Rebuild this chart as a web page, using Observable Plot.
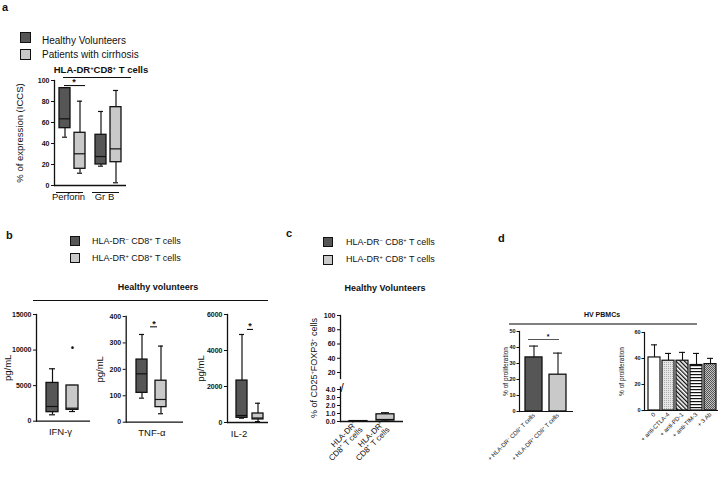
<!DOCTYPE html>
<html><head><meta charset="utf-8">
<script src="https://cdn.jsdelivr.net/npm/d3@7"></script>
<script src="https://cdn.jsdelivr.net/npm/@observablehq/plot@0.6"></script>
<style>
html,body{margin:0;padding:0;background:#fff}
#root{position:relative;width:720px;height:481px;overflow:hidden;font-family:"Liberation Sans",Arial,sans-serif;color:#111}
#root > *{position:absolute}
.t{white-space:nowrap;line-height:1;transform:translateY(-50%)}
.t.c{transform:translate(-50%,-50%)}
.t.r{transform:translate(-50%,-50%) rotate(-90deg)}
.b{font-weight:bold}
.sw{box-sizing:border-box;border:1.6px solid #111}
sup{font-size:62%;vertical-align:0;position:relative;top:-0.5em}
svg [aria-label="y-axis tick label"]{font-weight:bold}
svg [aria-label="y-axis label"]{font-weight:normal}
.pa [aria-label="y-axis label"]{font-size:9.5px}
.pa [aria-label="fx-axis tick label"]{font-size:9.5px}
.pb [aria-label="y-axis label"]{font-size:9.5px}
.pc [aria-label="x-axis tick label"]{font-size:8px}
.pd [aria-label="y-axis label"]{font-size:6.5px}
.pd [aria-label="x-axis tick label"]{font-size:6px}
</style></head>
<body>
<svg width="0" height="0" style="position:absolute">
<defs>
<pattern id="pDots" width="2" height="2" patternUnits="userSpaceOnUse"><rect width="2" height="2" fill="#e6e6e6"/><rect width="0.8" height="0.8" fill="#8a8a8a"/></pattern>
<pattern id="pDiag" width="3" height="3" patternUnits="userSpaceOnUse" patternTransform="rotate(-45)"><rect width="3" height="3" fill="#fff"/><rect width="1.3" height="3" fill="#111"/></pattern>
<pattern id="pHoriz" width="3" height="3" patternUnits="userSpaceOnUse"><rect width="3" height="3" fill="#fff"/><rect width="3" height="1.2" fill="#111"/></pattern>
<pattern id="pCheck" width="2" height="2" patternUnits="userSpaceOnUse"><rect width="2" height="2" fill="#c4c4c4"/><rect width="1" height="1" fill="#555"/><rect x="1" y="1" width="1" height="1" fill="#555"/></pattern>
</defs></svg>
<div id="root"></div>
<script>
// ---------------- DATA ----------------
// Panel a
const aLegend = ["Healthy Volunteers", "Patients with cirrhosis"];
const aTitle = "HLA-DR⁺CD8⁺ T cells";
const aGroups = ["Perforin", "Gr B"];
const aYTicks = [0, 20, 40, 60, 80, 100];
const aBoxes = [
  {group: "Perforin", cohort: "Healthy Volunteers", min: 46, q1: 54.6, median: 63.5, q3: 92.7, max: 92.7},
  {group: "Perforin", cohort: "Patients with cirrhosis", min: 11.7, q1: 15.9, median: 30.2, q3: 50.2, max: 80.3},
  {group: "Gr B", cohort: "Healthy Volunteers", min: 18.4, q1: 20, median: 27.6, q3: 48.3, max: 70.5},
  {group: "Gr B", cohort: "Patients with cirrhosis", min: 2.6, q1: 22.2, median: 34.9, q3: 74.6, max: 90.5}
];
const aSig = [{group: "Perforin", from: "Healthy Volunteers", to: "Patients with cirrhosis", y: 95.2, label: "*"}];

// Panel b
const bCohorts = ["HLA-DR⁻ CD8⁺ T cells", "HLA-DR⁺ CD8⁺ T cells"];
const bTitle = "Healthy volunteers";
const bIfnTicks = [0, 5000, 10000, 15000];
const bTnfTicks = [0, 100, 200, 300, 400];
const bIl2Ticks = [0, 2000, 4000, 6000];
const bIfn = [
  {cohort: bCohorts[0], min: 900, q1: 1270, median: 2070, q3: 5380, max: 7370},
  {cohort: bCohorts[1], min: 1360, q1: 1600, median: 1830, q3: 5020, max: 5020}
];
const bIfnOutliers = [{cohort: bCohorts[1], value: 10340}];
const bTnf = [
  {cohort: bCohorts[0], min: 91, q1: 111, median: 183, q3: 237, max: 332},
  {cohort: bCohorts[1], min: 32, q1: 57, median: 86, q3: 157, max: 288}
];
const bTnfSig = [{from: bCohorts[0], to: bCohorts[1], y: 361, label: "*"}];
const bIl2 = [
  {cohort: bCohorts[0], min: 240, q1: 260, median: 390, q3: 2330, max: 4890},
  {cohort: bCohorts[1], min: 50, q1: 170, median: 250, q3: 500, max: 1070}
];
const bIl2Sig = [{from: bCohorts[0], to: bCohorts[1], y: 5170, label: "*"}];

// Panel c (broken y axis: upper 20–100, lower 0–4)
const cLegend = ["HLA-DR⁻ CD8⁺ T cells", "HLA-DR⁺ CD8⁺ T cells"];
const cTitle = "Healthy Volunteers";
const cYLabel = "% of CD25⁺FOXP3⁺ cells";
const cCategories = ["HLA-DR⁻\nCD8⁺ T cells", "HLA-DR⁺\nCD8⁺ T cells"];
const cUpperTicks = [20, 40, 60, 80, 100];
const cLowerTicks = [0, 1, 2, 3, 4];
const cBoxes = [
  {cat: cCategories[0], min: 0.01, q1: 0.02, median: 0.03, q3: 0.05, max: 0.07},
  {cat: cCategories[1], min: 0.05, q1: 0.12, median: 0.25, q3: 0.9, max: 1.1}
];

// Panel d
const dTitle = "HV PBMCs";
const dLeftCats = ["+ HLA-DR⁻ CD8⁺ T cells", "+ HLA-DR⁺ CD8⁺ T cells"];
const dLeftMean = [33.8, 23.0];
const dLeftErr = [7.1, 13.5];
const dLeftTicks = [0, 10, 20, 30, 40, 50];
const dLeftSig = [{from: dLeftCats[0], to: dLeftCats[1], y: 45, label: "*"}];
const dRightCats = ["0", "+ anti-CTLA-4", "+ anti-PD-1", "+ anti-TIM-3", "+ 3 Ab"];
const dRightMean = [40.8, 38.3, 38.3, 35.0, 35.7];
const dRightErr = [9.7, 5.6, 6.4, 8.9, 4.4];
const dRightTicks = [0, 20, 40, 60];

// ---------------- STYLE ----------------
const DARK = "#565656", LIGHT = "#c9c9c9", INK = "#111";
const FONT = '"Liberation Sans", Arial, sans-serif';
const dRightFills = ["#ffffff", "url(#pDots)", "url(#pDiag)", "url(#pHoriz)", "url(#pCheck)"];

const root = document.getElementById("root");
function put(node, left, top) { node.style.left = left + "px"; node.style.top = top + "px"; root.appendChild(node); return node; }
function sup(s) { return s.replace(/⁺/g, "<sup>+</sup>").replace(/⁻/g, "<sup>−</sup>"); }
function txt(s, x, y, size, cls = "") {
  const d = document.createElement("div");
  d.className = "t " + cls; d.style.fontSize = size + "px"; d.innerHTML = sup(s);
  return put(d, x, y);
}
function swatch(x, y, s, fill) {
  const d = document.createElement("div"); d.className = "sw";
  d.style.width = s + "px"; d.style.height = s + "px"; d.style.background = fill;
  return put(d, x, y);
}
function hline(x1, x2, y, color, w) {
  const d = document.createElement("div");
  d.style.width = (x2 - x1) + "px"; d.style.height = "0"; d.style.borderTop = w + "px solid " + color;
  return put(d, x1, y);
}
const base = (fontSize = "7px") => ({style: {fontFamily: FONT, fontSize, background: "transparent", overflow: "visible", color: INK}});

function boxMarks(data, xk, {cap = 3, facet = {}} = {}) {
  const ink = {stroke: INK, strokeWidth: 1.2};
  return [
    Plot.ruleX(data, {...facet, x: xk, y1: "min", y2: "q1", ...ink}),
    Plot.ruleX(data, {...facet, x: xk, y1: "q3", y2: "max", ...ink}),
    Plot.tickY(data, {...facet, x: xk, y: "min", insetLeft: cap, insetRight: cap, ...ink}),
    Plot.tickY(data, {...facet, x: xk, y: "max", insetLeft: cap, insetRight: cap, ...ink}),
    Plot.barY(data, {...facet, x: xk, y1: "q1", y2: "q3", fill: xk, stroke: INK, strokeWidth: 1.3}),
    Plot.tickY(data, {...facet, x: xk, y: "median", ...ink})
  ];
}

// ---------------- PANEL A ----------------
txt("a", 2, 7, 11, "b");
swatch(20, 32, 11, DARK); swatch(20, 49, 11, LIGHT);
txt(aLegend[0], 42, 40.5, 10); txt(aLegend[1], 42, 55, 10);
txt(aTitle, 101, 70, 9.5, "b c");
hline(63, 131, 77, INK, 1);

put(Plot.plot({
  ...base(), className: "pa",
  width: 135, height: 150, marginLeft: 53, marginRight: 9, marginTop: 20, marginBottom: 25,
  fx: {domain: aGroups, padding: 0, axis: null},
  x: {domain: aLegend, paddingInner: 0.3, paddingOuter: 0.28, axis: null},
  y: {domain: [0, 100], ticks: aYTicks, tickSize: 3, tickPadding: 2, label: "% of expression (ICCS)", labelArrow: "none", labelAnchor: "center", labelOffset: 38},
  color: {domain: aLegend, range: [DARK, LIGHT]},
  marks: [
    Plot.axisFx({anchor: "bottom", tickSize: 0, tickPadding: 8, dx: -4, label: null}),
    Plot.frame({anchor: "left", facetAnchor: "left", stroke: INK, strokeWidth: 1.3}),
    Plot.ruleY([0], {stroke: INK, strokeWidth: 1.3}),
    Plot.ruleY([0], {stroke: INK, strokeWidth: 1, dy: 7, insetLeft: 2, insetRight: 7}),
    ...boxMarks(aBoxes, "cohort", {facet: {fx: "group"}}),
    Plot.ruleY(aSig, {fx: "group", x1: "from", x2: "to", y: "y", insetLeft: 5, stroke: INK, strokeWidth: 1.1}),
    Plot.text(aSig, {fx: "group", x: "from", y: "y", text: "label", dx: 9, dy: -3, fontSize: 9, fontWeight: "bold"})
  ]
}), 0, 60);

// ---------------- PANEL B ----------------
txt("b", 6, 235, 11, "b");
swatch(70, 236, 10, DARK); swatch(70, 253, 10, LIGHT);
txt(bCohorts[0], 92, 241, 9); txt(bCohorts[1], 92, 258, 9);
txt(bTitle, 158, 287, 9, "b c");
hline(33, 268, 300, INK, 1);

function cytokinePlot(name, boxes, ticks, {sig = [], outliers = [], width, mL, mR, mT, mB, range, pi, po, labelOffset, nameDx, sigIL = 0, sigIR = 0, starDx = 0}) {
  return Plot.plot({
    ...base(), className: "pb",
    width, height: 140, marginLeft: mL, marginRight: mR, marginTop: mT, marginBottom: mB,
    x: {domain: bCohorts, range, paddingInner: pi, paddingOuter: po, axis: null},
    y: {domain: [0, ticks[ticks.length - 1]], ticks, tickFormat: "d", tickSize: 3, tickPadding: 2, label: "pg/mL", labelArrow: "none", labelAnchor: "center", labelOffset},
    color: {domain: bCohorts, range: [DARK, LIGHT]},
    marks: [
      Plot.frame({anchor: "left", stroke: INK, strokeWidth: 1.3}),
      Plot.ruleY([0], {stroke: INK, strokeWidth: 1.3}),
      ...boxMarks(boxes, "cohort"),
      Plot.dot(outliers, {x: "cohort", y: "value", r: 1.3, fill: INK}),
      Plot.ruleY(sig, {x1: "from", x2: "to", y: "y", insetLeft: sigIL, insetRight: sigIR, stroke: INK, strokeWidth: 1.1}),
      Plot.text(sig, {x: "to", y: "y", text: "label", dx: starDx, dy: -3, fontSize: 9, fontWeight: "bold"}),
      Plot.text([name], {text: d => d, frameAnchor: "bottom", dy: 14, dx: nameDx, fontSize: 9.5})
    ]
  });
}
put(cytokinePlot("IFN-γ", bIfn, bIfnTicks, {outliers: bIfnOutliers, width: 95, mL: 36, mR: 5, mT: 9, mB: 24.3, range: [40, 84], pi: 0.4, po: 0.25, labelOffset: 32, nameDx: -3}), 0, 305);
put(cytokinePlot("TNF-α", bTnf, bTnfTicks, {sig: bTnfSig, width: 90, mL: 30.7, mR: 2, mT: 11, mB: 23.3, range: [36, 77], pi: 0.4, po: 0.25, labelOffset: 30, nameDx: -3, sigIL: 14, sigIR: 9, starDx: -7}), 95, 305);
put(cytokinePlot("IL-2", bIl2, bIl2Ticks, {sig: bIl2Sig, width: 95, mL: 37, mR: 17, mT: 9, mB: 23, range: [42, 77], pi: 0.3, po: 0.2, labelOffset: 30, nameDx: -9, sigIL: 11, sigIR: 10, starDx: -8}), 190, 305);

// ---------------- PANEL C ----------------
txt("c", 286, 233, 11, "b");
swatch(323, 237, 10, DARK); swatch(323, 255, 10, LIGHT);
txt(cLegend[0], 346, 241.5, 9); txt(cLegend[1], 346, 259, 9);
txt(cTitle, 385, 288, 9, "b c");
txt(cYLabel, 314, 368, 9, "r");

// upper segment of the broken axis (20–100); frame extends a little below 20
put(Plot.plot({
  ...base(), className: "pc",
  width: 125, height: 75, marginLeft: 50, marginRight: 12, marginTop: 10, marginBottom: 2,
  x: {domain: cCategories, axis: null},
  y: {domain: [cUpperTicks[0] - 8.4, cUpperTicks[cUpperTicks.length - 1]], ticks: cUpperTicks, tickSize: 3, tickPadding: 2, label: null},
  marks: [Plot.frame({anchor: "left", stroke: INK, strokeWidth: 1.3})]
}), 290, 305);

// lower segment (0–4) with the boxes
put(Plot.plot({
  ...base(), className: "pc",
  width: 125, height: 101, marginLeft: 50, marginRight: 12, marginTop: 6.6, marginBottom: 60,
  x: {domain: cCategories, range: [50, 113], padding: 0.33, tickSize: 0, tickPadding: 4, tickRotate: -45, label: null},
  y: {domain: [0, 4.3], ticks: cLowerTicks, tickSize: 3, tickPadding: 2, label: null},
  color: {domain: cCategories, range: [DARK, LIGHT]},
  marks: [
    Plot.frame({anchor: "left", stroke: INK, strokeWidth: 1.3}),
    Plot.text(["/"], {text: d => d, frameAnchor: "top-left", dy: -3.5, fontSize: 12, fill: INK}),
    Plot.ruleY([0], {stroke: INK, strokeWidth: 1.3}),
    ...boxMarks(cBoxes, "cat", {cap: 5})
  ]
}), 290, 380);

// ---------------- PANEL D ----------------
txt("d", 498, 238, 11, "b");
txt(dTitle, 602, 314, 7, "b c");
hline(509, 697, 323, "#808080", 2);

const dLeft = dLeftCats.map((c, i) => ({cat: c, mean: dLeftMean[i], top: dLeftMean[i] + dLeftErr[i]}));
const dRight = dRightCats.map((c, i) => ({cat: c, mean: dRightMean[i], top: dRightMean[i] + dRightErr[i]}));

put(Plot.plot({
  ...base("5.5px"), className: "pd",
  width: 80, height: 161, marginLeft: 19, marginRight: 7, marginTop: 11, marginBottom: 70,
  x: {domain: dLeftCats, range: [23, 67], paddingInner: 0.3, paddingOuter: 0.05, tickSize: 0, tickPadding: 3, tickRotate: -45, label: null},
  y: {domain: [0, 50], ticks: dLeftTicks, tickSize: 2.5, tickPadding: 1.5, label: "% of proliferation", labelArrow: "none", labelAnchor: "center", labelOffset: 16},
  color: {domain: dLeftCats, range: [DARK, LIGHT]},
  marks: [
    Plot.frame({anchor: "left", stroke: INK, strokeWidth: 1.2}),
    Plot.ruleX(dLeft, {x: "cat", y1: "mean", y2: "top", stroke: INK, strokeWidth: 1.1}),
    Plot.tickY(dLeft, {x: "cat", y: "top", insetLeft: 4, insetRight: 4, stroke: INK, strokeWidth: 1.1}),
    Plot.barY(dLeft, {x: "cat", y: "mean", fill: "cat", stroke: INK, strokeWidth: 1.3}),
    Plot.ruleY([0], {stroke: INK, strokeWidth: 1.2}),
    Plot.ruleY(dLeftSig, {x1: "from", x2: "to", y: "y", insetLeft: 3, insetRight: 7, stroke: "#555", strokeWidth: 1}),
    Plot.text(dLeftSig, {x: "to", y: "y", text: "label", dx: -10, dy: -3, fontSize: 7, fontWeight: "bold"})
  ]
}), 500, 320);

put(Plot.plot({
  ...base("5.5px"), className: "pd",
  width: 120, height: 161, marginLeft: 44, marginRight: 2, marginTop: 12, marginBottom: 71,
  x: {domain: dRightCats, range: [47, 117], paddingInner: 0.15, paddingOuter: 0.05, tickSize: 0, tickPadding: 3, tickRotate: -45, label: null},
  y: {domain: [0, 60], ticks: dRightTicks, tickSize: 2.5, tickPadding: 1.5, label: "% of proliferation", labelArrow: "none", labelAnchor: "center", labelOffset: 25},
  color: {type: "ordinal", domain: dRightCats, range: dRightFills},
  marks: [
    Plot.frame({anchor: "left", stroke: INK, strokeWidth: 1.2}),
    Plot.ruleX(dRight, {x: "cat", y1: "mean", y2: "top", stroke: INK, strokeWidth: 1.1}),
    Plot.tickY(dRight, {x: "cat", y: "top", insetLeft: 3, insetRight: 3, stroke: INK, strokeWidth: 1.1}),
    Plot.barY(dRight, {x: "cat", y: "mean", fill: "cat", stroke: INK, strokeWidth: 1.2}),
    Plot.ruleY([0], {stroke: INK, strokeWidth: 1.2})
  ]
}), 600, 320);
</script>
</body></html>
